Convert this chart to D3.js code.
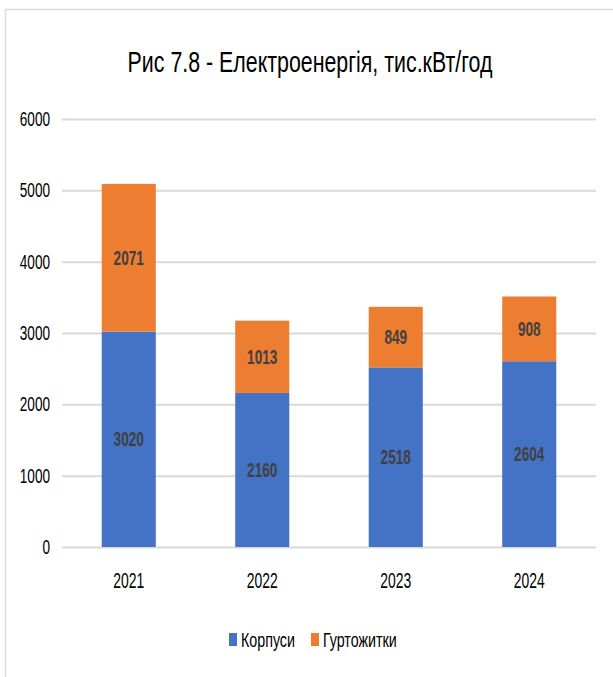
<!DOCTYPE html>
<head>
    <meta charset="utf-8">
    <title>Електроенергія</title>
    <script src="https://d3js.org/d3.v7.min.js"></script>
    <style>
        body { margin: 0; background: #fff; }
        text { font-family: "Liberation Sans", Arial, sans-serif; }
    </style>
</head>
<body>
    <div id="container"></div>
    <script>
        //----------------------------DATA------------------------------//
        var years = ["2021", "2022", "2023", "2024"];
        var korpusy = [3020, 2160, 2518, 2604];
        var hurtozhytky = [2071, 1013, 849, 908];
        var seriesNames = ["Корпуси", "Гуртожитки"];
        var yTicks = [0, 1000, 2000, 3000, 4000, 5000, 6000];
        var titleText = "Рис 7.8 - Електроенергія, тис.кВт/год";

        var W = 613, H = 677;
        var margin = { top: 119, right: 17, bottom: 130, left: 62 };
        var width = W - margin.left - margin.right,
            height = H - margin.top - margin.bottom;
        var color = d3.scaleOrdinal().domain(seriesNames).range(["#4472C4", "#ED7D31"]);
        var squeeze = 0.68; // the picture's text is narrow (condensed)

        var svg = d3.select("#container").append("svg")
            .attr("width", W).attr("height", H);

        // chart border
        svg.append("path")
            .attr("d", "M5.5," + H + " V9.5 H" + W)
            .attr("fill", "none").attr("stroke", "#d9d9d9").attr("stroke-width", 1.5);

        var title = svg.append("text")
            .attr("x", 310).attr("y", 72)
            .attr("text-anchor", "middle")
            .attr("font-size", 30)
            .attr("fill", "#000")
            .text(titleText);

        var g = svg.append("g").attr("transform", "translate(" + margin.left + "," + margin.top + ")");

        var x = d3.scaleBand().domain(years).range([0, width]).paddingInner(0.595).paddingOuter(0.2975);
        var y = d3.scaleLinear().domain([0, 6000]).range([height, 0]);

        //----------------------------GRID------------------------------//
        g.append("g")
            .call(d3.axisLeft(y).tickValues(yTicks).tickFormat(d3.format("d")).tickSize(-width))
            .call(function (a) {
                a.select(".domain").remove();
                a.selectAll(".tick line").attr("stroke", "#d9d9d9").attr("stroke-width", 2);
                a.selectAll(".tick text").attr("font-size", 20).attr("fill", "#000").attr("x", -12);
            });

        //----------------------------BARS------------------------------//
        var rows = years.map(function (yr, i) {
            return { year: yr, "Корпуси": korpusy[i], "Гуртожитки": hurtozhytky[i] };
        });
        var stacked = d3.stack().keys(seriesNames)(rows);

        var layers = g.selectAll(".layer").data(stacked).enter().append("g")
            .attr("fill", function (d) { return color(d.key); });

        layers.selectAll("rect").data(function (d) { return d; }).enter().append("rect")
            .attr("x", function (d) { return x(d.data.year); })
            .attr("width", x.bandwidth())
            .attr("y", function (d) { return y(d[1]); })
            .attr("height", function (d) { return y(d[0]) - y(d[1]); });

        layers.selectAll("text.val").data(function (d) { return d.map(function (v) { return { v: v, key: d.key }; }); })
            .enter().append("text")
            .attr("class", "val")
            .attr("x", function (d) { return x(d.v.data.year) + x.bandwidth() / 2; })
            .attr("y", function (d) { return (y(d.v[0]) + y(d.v[1])) / 2; })
            .attr("dy", "0.36em")
            .attr("text-anchor", "middle")
            .attr("font-size", 20)
            .attr("font-weight", "bold")
            .attr("fill", "#404040")
            .text(function (d) { return d.v.data[d.key]; });

        //----------------------------X AXIS----------------------------//
        g.append("g")
            .attr("transform", "translate(0," + height + ")")
            .call(d3.axisBottom(x).tickSize(0).tickPadding(25))
            .call(function (a) {
                a.select(".domain").remove();
                a.selectAll(".tick text").attr("font-size", 22).attr("fill", "#000");
            });

        //----------------------------LEGEND----------------------------//
        var legendX = [229, 311];
        var legend = svg.selectAll(".legend").data(seriesNames).enter().append("g")
            .attr("transform", function (d, i) { return "translate(" + legendX[i] + ",633)"; });
        legend.append("rect").attr("width", 8).attr("height", 13)
            .attr("fill", function (d) { return color(d); });
        legend.append("text").attr("x", 12).attr("y", 6).attr("dy", "0.36em")
            .attr("font-size", 21).attr("fill", "#000")
            .text(function (d) { return d; });

        // narrow all text horizontally, scaling round each text's own x
        svg.selectAll("text").each(function () {
            var t = d3.select(this);
            var fs = +t.attr("font-size");
            var s = squeeze * (fs > 21 ? 0.93 : 1);
            if (this === title.node()) s = 365 / this.getComputedTextLength();
            var x0 = +t.attr("x") || 0;
            t.attr("transform", "translate(" + x0 + ",0) scale(" + s + ",1) translate(" + (-x0) + ",0)");
        });
    </script>
</body>
